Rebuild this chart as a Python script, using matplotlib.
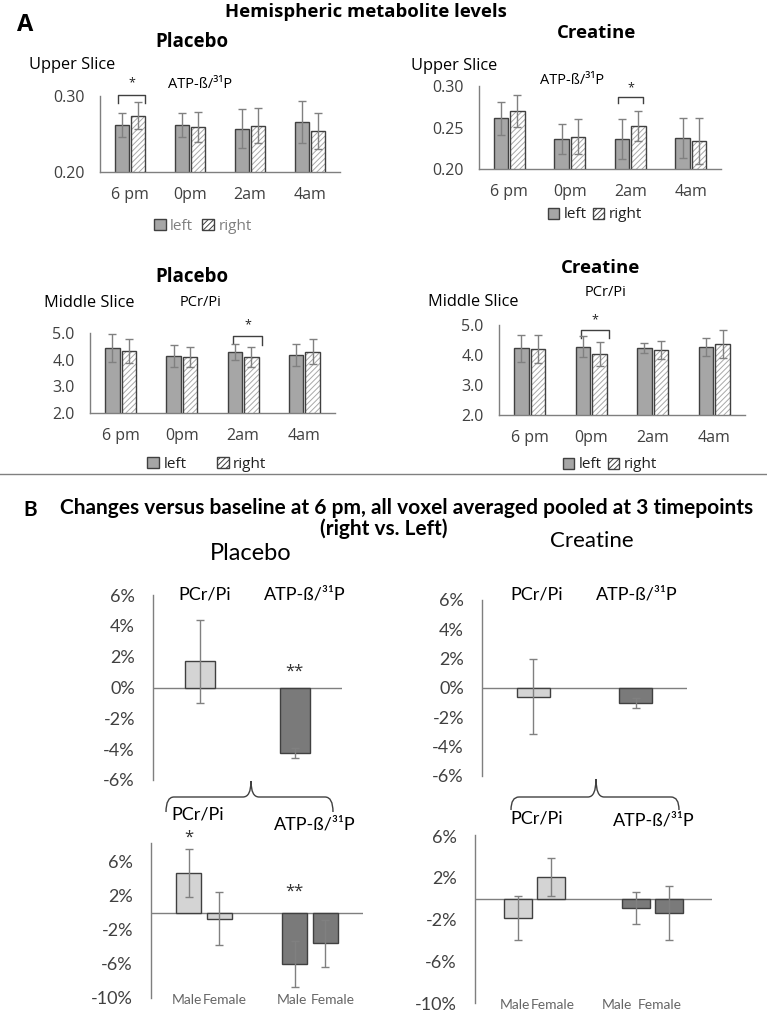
import matplotlib
matplotlib.use('Agg')
import matplotlib.pyplot as plt
import numpy as np
from matplotlib.patches import Patch, PathPatch
from matplotlib.path import Path
from matplotlib.lines import Line2D

W, H = 767, 1011
plt.rcParams['font.family'] = ['Open Sans', 'DejaVu Sans']
plt.rcParams['hatch.linewidth'] = 0.7

# ---------------- data ----------------
times = ['6 pm', '0pm', '2am', '4am']
hemis = ['left', 'right']

# A, upper slice ATP-ß/31P
plc_upper_left = [0.262, 0.262, 0.257, 0.266]
plc_upper_left_err = [0.016, 0.016, 0.026, 0.028]
plc_upper_right = [0.274, 0.259, 0.261, 0.254]
plc_upper_right_err = [0.018, 0.020, 0.023, 0.024]
cre_upper_left = [0.261, 0.236, 0.236, 0.237]
cre_upper_left_err = [0.020, 0.018, 0.024, 0.024]
cre_upper_right = [0.270, 0.239, 0.252, 0.234]
cre_upper_right_err = [0.019, 0.021, 0.018, 0.028]

# A, middle slice PCr/Pi
plc_mid_left = [4.44, 4.14, 4.29, 4.18]
plc_mid_left_err = [0.52, 0.41, 0.30, 0.41]
plc_mid_right = [4.31, 4.11, 4.10, 4.30]
plc_mid_right_err = [0.45, 0.37, 0.39, 0.47]
cre_mid_left = [4.23, 4.27, 4.23, 4.27]
cre_mid_left_err = [0.45, 0.35, 0.17, 0.30]
cre_mid_right = [4.20, 4.02, 4.17, 4.37]
cre_mid_right_err = [0.47, 0.40, 0.30, 0.47]

# B, changes (%) right vs left
metabolites = ['PCr/Pi', 'ATP-ß/³¹P']
sexes = ['Male', 'Female']
plc_pooled = [1.7, -4.25]
plc_pooled_err = [2.7, 0.35]
cre_pooled = [-0.6, -1.0]
cre_pooled_err = [2.55, 0.33]
plc_male = [4.7, -6.0]
plc_male_err = [2.8, 2.75]
plc_female = [-0.7, -3.6]
plc_female_err = [3.1, 2.8]
cre_male = [-1.85, -0.9]
cre_male_err = [2.15, 1.5]
cre_female = [2.05, -1.35]
cre_female_err = [1.8, 2.6]

# ---------------- helpers ----------------
fig = plt.figure(figsize=(W / 100, H / 100), dpi=100)
TICK = '#404040'
EDGE = '#404040'
ECOL = '#808080'
BF = ['Lato', 'DejaVu Sans']


def px_axes(x0, y0, x1, y1):
    return fig.add_axes([x0 / W, 1 - y1 / H, (x1 - x0) / W, (y1 - y0) / H])


def ftext(x, y, s, **kw):
    kw.setdefault('ha', 'center')
    kw.setdefault('va', 'center')
    fig.text(x / W, 1 - y / H, s, **kw)


def panel_a(rect, left, lerr, right, rerr, ylim, yticks, fmt, leg_xy, leg_color,
            colspace, bracket):
    ax = px_axes(*rect)
    x = np.arange(len(times))
    w, off = 0.24, 0.135
    ax.bar(x - off, left, w, color='#a6a6a6', edgecolor=EDGE, lw=1, zorder=2)
    ax.bar(x + off, right, w, color='white', edgecolor='#a8a8a8', hatch='//////',
           lw=0, zorder=2)
    ax.bar(x + off, right, w, color='none', edgecolor=EDGE, lw=1, zorder=3)
    ax.errorbar(x - off, left, yerr=lerr, fmt='none', ecolor=ECOL, capsize=3,
                elinewidth=1, capthick=1, zorder=4)
    ax.errorbar(x + off, right, yerr=rerr, fmt='none', ecolor=ECOL, capsize=3,
                elinewidth=1, capthick=1, zorder=4)
    ax.set_xlim(-0.5, len(times) - 0.5)
    ax.set_ylim(*ylim)
    ax.set_yticks(yticks)
    ax.set_yticklabels([fmt.format(v) for v in yticks])
    ax.set_xticks(x)
    ax.set_xticklabels(times)
    ax.tick_params(axis='both', length=0, labelsize=11.5, colors=TICK)
    ax.tick_params(axis='y', pad=11)
    ax.tick_params(axis='x', pad=11)
    for s in ['top', 'right']:
        ax.spines[s].set_visible(False)
    for s in ['left', 'bottom']:
        ax.spines[s].set_color('#7f7f7f')
        ax.spines[s].set_linewidth(1)
    ax.patch.set_alpha(0)
    handles = [Patch(facecolor='#a6a6a6', edgecolor=EDGE),
               Patch(facecolor='white', edgecolor=EDGE, hatch='//////')]
    ax.legend(handles, hemis, loc='center', bbox_to_anchor=(leg_xy[0] / W, 1 - leg_xy[1] / H),
              bbox_transform=fig.transFigure, ncol=2, frameon=False, fontsize=11,
              handlelength=0.75, handleheight=0.75, handletextpad=0.3,
              columnspacing=colspace, labelcolor=leg_color, borderpad=0)
    xl, xr, yl, yt, yr, ys = bracket
    ax.plot([xl, xl, xr, xr], [yl, yt, yt, yr], color=EDGE, lw=1, clip_on=False)
    ax.text((xl + xr) / 2, ys, '*', ha='center', va='center', fontsize=9, color='#202020')
    return ax


def style_b(ax, ylim, yticks):
    ax.set_ylim(*ylim)
    ax.set_yticks(yticks)
    ax.set_yticklabels(['{:.0f}%'.format(v) for v in yticks], family=BF)
    ax.tick_params(axis='y', length=0, labelsize=13, colors=TICK, pad=13)
    for s in ['top', 'right', 'bottom']:
        ax.spines[s].set_visible(False)
    ax.spines['left'].set_color('#7f7f7f')
    ax.spines['left'].set_linewidth(1)
    ax.axhline(0, color='#7f7f7f', lw=1, zorder=1)
    ax.patch.set_alpha(0)


CAT_COLORS = ['#d4d4d4', '#7a7a7a']


def panel_b_pooled(rect, vals, errs, ylim, yticks):
    ax = px_axes(*rect)
    x = np.arange(len(metabolites))
    ax.bar(x, vals, 0.32, color=CAT_COLORS, edgecolor=EDGE, lw=1, zorder=2)
    ax.errorbar(x, vals, yerr=errs, fmt='none', ecolor=ECOL, capsize=3,
                elinewidth=1, capthick=1, zorder=3)
    ax.set_xlim(-0.5, len(metabolites) - 0.5)
    ax.set_xticks([])
    style_b(ax, ylim, yticks)
    return ax


def panel_b_sex(rect, male, merr, female, ferr, ylim, yticks, w, off, label_pos):
    ax = px_axes(*rect)
    x = np.arange(len(metabolites))
    for vals, errs, o in [(male, merr, -off), (female, ferr, off)]:
        ax.bar(x + o, vals, w, color=CAT_COLORS, edgecolor=EDGE, lw=1, zorder=2)
        ax.errorbar(x + o, vals, yerr=errs, fmt='none', ecolor=ECOL, capsize=3,
                    elinewidth=1, capthick=1, zorder=3)
    ax.set_xlim(-0.5, len(metabolites) - 0.5)
    ax.set_xticks(label_pos)
    ax.set_xticklabels(sexes * len(metabolites), family=BF)
    ax.tick_params(axis='x', length=0, labelsize=10, colors='#666666', pad=-3)
    style_b(ax, ylim, yticks)
    return ax


def brace(x0, x1, xm, y_end, y_mid, y_peak, r=8):
    pts = [(x0, y_end), (x0, y_mid), (x0 + r, y_mid), (xm - r, y_mid), (xm, y_mid), (xm, y_peak),
           (xm, y_mid), (xm + r, y_mid), (x1 - r, y_mid), (x1, y_mid), (x1, y_end)]
    codes = [Path.MOVETO, Path.CURVE3, Path.CURVE3, Path.LINETO, Path.CURVE3, Path.CURVE3,
             Path.CURVE3, Path.CURVE3, Path.LINETO, Path.CURVE3, Path.CURVE3]
    verts = [(px / W, 1 - py / H) for px, py in pts]
    fig.add_artist(PathPatch(Path(verts, codes), transform=fig.transFigure, fill=False,
                             ec=EDGE, lw=1))


# ---------------- Section A ----------------
ftext(25, 25, 'A', fontsize=17, fontweight='bold')
ftext(366, 12, 'Hemispheric metabolite levels', fontsize=13.3, fontweight='bold')
ftext(192, 42, 'Placebo', fontsize=13.5, fontweight='bold')
ftext(597, 33, 'Creatine', fontsize=13.3, fontweight='bold')
ftext(72, 65, 'Upper Slice', fontsize=11.8)
ftext(200, 84, 'ATP-ß/³¹P', fontsize=10.5)
ftext(454, 66, 'Upper Slice', fontsize=11.8)
ftext(572, 80, 'ATP-ß/³¹P', fontsize=10.5)

panel_a((100, 96, 340, 172), plc_upper_left, plc_upper_left_err, plc_upper_right,
        plc_upper_right_err, (0.2, 0.3), [0.2, 0.3], '{:.2f}', (203, 226), '#7f7f7f', 0.6,
        (-0.2, 0.25, 0.291, 0.301, 0.291, 0.317))
panel_a((479, 86, 721, 169), cre_upper_left, cre_upper_left_err, cre_upper_right,
        cre_upper_right_err, (0.2, 0.3), [0.2, 0.25, 0.3], '{:.2f}', (595, 215), '#202020', 0.4,
        (1.8, 2.21, 0.279, 0.287, 0.279, 0.298))

ftext(192, 277, 'Placebo', fontsize=13.5, fontweight='bold')
ftext(89, 303, 'Middle Slice', fontsize=11.8)
ftext(201, 303, 'PCr/Pi', fontsize=10.5)
ftext(600, 268, 'Creatine', fontsize=13.3, fontweight='bold')
ftext(605, 293, 'PCr/Pi', fontsize=10.5)
ftext(473, 302, 'Middle Slice', fontsize=11.8)

panel_a((90, 333, 335, 413), plc_mid_left, plc_mid_left_err, plc_mid_right,
        plc_mid_right_err, (2, 5), [2, 3, 4, 5], '{:.1f}', (207, 464), '#202020', 2.0,
        (1.84, 2.31, 4.63, 4.89, 4.55, 5.3))
panel_a((499, 325, 745, 415), cre_mid_left, cre_mid_left_err, cre_mid_right,
        cre_mid_right_err, (2, 5), [2, 3, 4, 5], '{:.1f}', (610, 465), '#202020', 0.4,
        (0.84, 1.29, 4.57, 4.83, 4.57, 5.17))

fig.add_artist(Line2D([0, 1], [1 - 474 / H] * 2, color='#808080', lw=1))

# ---------------- Section B ----------------
ftext(30, 510, 'B', fontsize=15, fontweight='bold', family=BF)
ftext(407, 508, 'Changes versus baseline at 6 pm, all voxel averaged pooled at 3 timepoints',
      fontsize=15, fontweight='bold', family=BF)
ftext(384, 529, '(right vs. Left)', fontsize=15, fontweight='bold', family=BF)
ftext(251, 553, 'Placebo', fontsize=17, family=BF)
ftext(592, 541, 'Creatine', fontsize=16, family=BF)

b1 = panel_b_pooled((153, 595, 342, 780), plc_pooled, plc_pooled_err, (-6, 6),
                    [-6, -4, -2, 0, 2, 4, 6])
b1.text(1, 1.0, '**', ha='center', va='center', fontsize=12, color='#303030')
b2 = panel_b_pooled((482, 600, 687, 776), cre_pooled, cre_pooled_err, (-6, 6),
                    [-6, -4, -2, 0, 2, 4, 6])
ftext(205, 595, metabolites[0], fontsize=13, family=BF)
ftext(305, 595, metabolites[1], fontsize=13, family=BF)
ftext(537, 594, metabolites[0], fontsize=13, family=BF)
ftext(637, 594, metabolites[1], fontsize=13, family=BF)

brace(166, 333, 251, 812, 797, 781)
brace(511, 679, 596, 810, 797, 779)

b3 = panel_b_sex((151, 843, 363, 998), plc_male, plc_male_err, plc_female, plc_female_err,
                 (-10, 8.2), [-10, -6, -2, 2, 6], 0.23, 0.145,
                 [-0.16, 0.2, 0.83, 1.21])
b3.text(-0.145, 8.8, '*', ha='center', va='center', fontsize=12, color='#303030', clip_on=False)
b3.text(1 - 0.145, 2.5, '**', ha='center', va='center', fontsize=12, color='#303030')
b4 = panel_b_sex((475, 835, 712, 1003), cre_male, cre_male_err, cre_female, cre_female_err,
                 (-10, 6.1), [-10, -6, -2, 2, 6], 0.235, 0.14,
                 [-0.16, 0.16, 0.7, 1.06])
ftext(198, 815, metabolites[0], fontsize=13, family=BF)
ftext(315, 825, metabolites[1], fontsize=13, family=BF)
ftext(537, 818, metabolites[0], fontsize=13, family=BF)
ftext(654, 821, metabolites[1], fontsize=13, family=BF)

fig.savefig('out.png', dpi=100)
